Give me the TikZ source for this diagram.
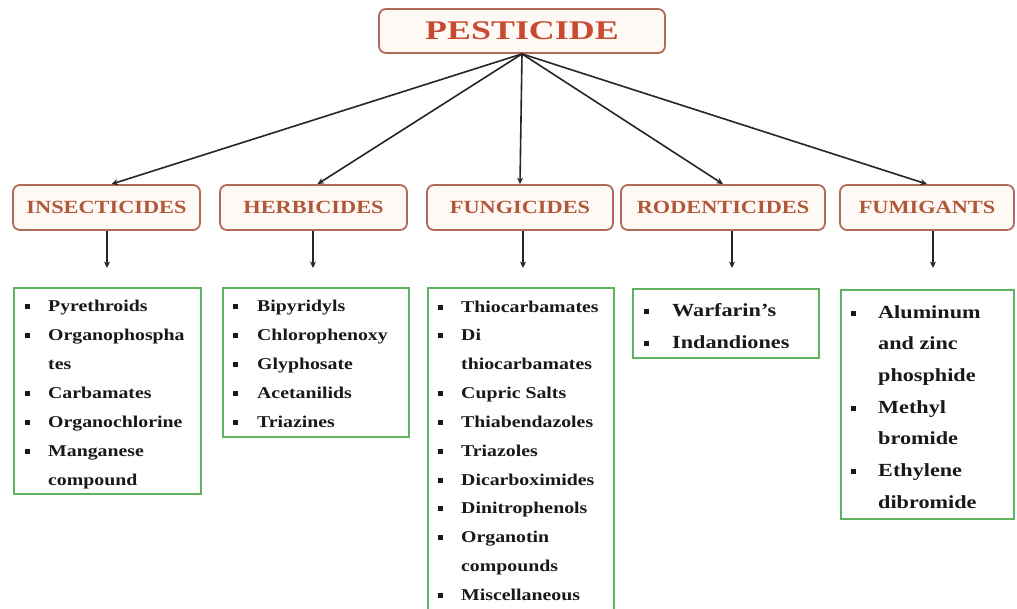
\documentclass[tikz,border=0pt]{standalone}
\usepackage{fontspec}
\setmainfont{Liberation Serif}[FakeStretch=1.2]
\newfontfamily\titlefont{Liberation Serif}[FakeStretch=1.33]
\usetikzlibrary{arrows.meta}
\definecolor{titlered}{HTML}{C84B31}
\definecolor{catbrown}{HTML}{B0583A}
\definecolor{boxedge}{HTML}{B06A58}
\definecolor{boxfill}{HTML}{FFF9F6}
\definecolor{listgreen}{HTML}{5FB35F}
\newcommand\bul[1]{\makebox[0pt][r]{\raisebox{2.5pt}{\rule{5pt}{5pt}}\hspace{#1}}}
\tikzset{
  catbox/.style={draw=boxedge, fill=boxfill, line width=1.8pt, rounded corners=7pt,
    minimum height=45pt, inner sep=0pt, text=catbrown,
    font=\fontsize{18.6}{20}\selectfont\bfseries},
  titlebox/.style={catbox, minimum height=44pt, minimum width=286pt, text=titlered,
    font=\titlefont\fontsize{27}{30}\selectfont\bfseries},
  listbox/.style={draw=listgreen, line width=2pt, anchor=north west, inner sep=0pt},
  itemsm/.style={anchor=base west, inner sep=0pt, text=black!90,
    font=\fontsize{16.5}{18}\selectfont\bfseries},
  itemlg/.style={itemsm, font=\fontsize{18.5}{20}\selectfont\bfseries},
  arr/.style={draw=black!85, line width=1.6pt, -{Stealth[length=6.5pt,width=6pt]}}
}
\begin{document}
\begin{tikzpicture}[x=1pt,y=-1pt]
\useasboundingbox (0,0) rectangle (1017,608);
\clip (0,0) rectangle (1017,608);
\fill[white] (0,0) rectangle (1017,608);

% title
\node[titlebox] (pest) at (522,31) {PESTICIDE};

% categories
\node[catbox, minimum width=187pt] (ins)  at (106.5,207.5) {INSECTICIDES};
\node[catbox, minimum width=187pt] (herb) at (313.5,207.5) {HERBICIDES};
\node[catbox, minimum width=186pt] (fung) at (520,207.5) {FUNGICIDES};
\node[catbox, minimum width=204pt] (rod)  at (723,207.5) {RODENTICIDES};
\node[catbox, minimum width=174pt] (fum)  at (927,207.5) {FUMIGANTS};

% connectors from title
\draw[arr] (pest.south) -- ([xshift=5pt]ins.north);
\draw[arr] (pest.south) -- ([xshift=4pt]herb.north);
\draw[arr] (pest.south) -- (fung.north);
\draw[arr] (pest.south) -- (rod.north);
\draw[arr] (pest.south) -- (fum.north);

% vertical arrows
\coordinate (insA)  at (107,268);
\coordinate (herbA) at (313,268);
\coordinate (fungA) at (523,268);
\coordinate (rodA)  at (732,268);
\coordinate (fumA)  at (933,268);
\draw[arr] (ins.south -| insA) -- (insA);
\draw[arr] (herb.south -| herbA) -- (herbA);
\draw[arr] (fung.south -| fungA) -- (fungA);
\draw[arr] (rod.south -| rodA) -- (rodA);
\draw[arr] (fum.south -| fumA) -- (fumA);

% list boxes
\node[listbox, minimum width=187pt, minimum height=206pt] (insL)  at (13,287) {};
\node[listbox, minimum width=186pt, minimum height=149pt] (herbL) at (222,287) {};
\node[listbox, minimum width=186pt, minimum height=340pt] (fungL) at (427,287) {};
\node[listbox, minimum width=186pt, minimum height=69pt]  (rodL)  at (632,288) {};
\node[listbox, minimum width=173pt, minimum height=229pt] (fumL)  at (840,289) {};

% insecticides list
\foreach \b/\t [count=\i] in {1/Pyrethroids, 1/Organophospha, 0/tes, 1/Carbamates,
    1/Organochlorine, 1/Manganese, 0/compound}
  \node[itemsm] (ins-\i) at (48, 311+29*\i-29) {\ifnum\b=1 \bul{18.5pt}\fi\t};

% herbicides list
\foreach \b/\t [count=\i] in {1/Bipyridyls, 1/Chlorophenoxy, 1/Glyphosate,
    1/Acetanilids, 1/Triazines}
  \node[itemsm] (herb-\i) at (257, 311+29*\i-29) {\ifnum\b=1 \bul{19.5pt}\fi\t};

% fungicides list
\foreach \b/\t [count=\i] in {1/Thiocarbamates, 1/Di, 0/thiocarbamates, 1/Cupric Salts,
    1/Thiabendazoles, 1/Triazoles, 1/Dicarboximides, 1/Dinitrophenols, 1/Organotin,
    0/compounds, 1/Miscellaneous}
  \node[itemsm] (fung-\i) at (461, 312+28.85*\i-28.85) {\ifnum\b=1 \bul{18.5pt}\fi\t};

% rodenticides list
\foreach \b/\t [count=\i] in {1/Warfarin's, 1/Indandiones}
  \node[itemlg] (rod-\i) at (672, 316+32*\i-32) {\ifnum\b=1 \bul{23.5pt}\fi\t};

% fumigants list
\foreach \b/\t [count=\i] in {1/Aluminum, 0/and zinc, 0/phosphide, 1/Methyl,
    0/bromide, 1/Ethylene, 0/dibromide}
  \node[itemlg] (fum-\i) at (878, 318+31.7*\i-31.7) {\ifnum\b=1 \bul{22.5pt}\fi\t};
\end{tikzpicture}
\end{document}
